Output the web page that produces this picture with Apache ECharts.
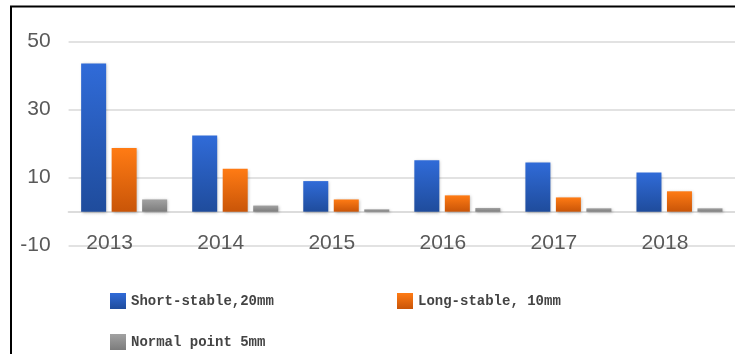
<!DOCTYPE html>
<html>
<head>
<meta charset="utf-8">
<script src="https://cdn.jsdelivr.net/npm/echarts@6/dist/echarts.min.js"></script>
<style>
  html, body { margin: 0; padding: 0; background: #fff; }
  #chart { width: 735px; height: 354px; }
</style>
</head>
<body>
<div id="chart"></div>
<script>
// Yearly values for the three measurement types
const years = ['2013', '2014', '2015', '2016', '2017', '2018'];
const shortStable = [43.6, 22.4, 9.0, 15.1, 14.5, 11.5];
const longStable = [18.7, 12.6, 3.6, 4.8, 4.2, 6.0];
const normalPoint = [3.6, 1.8, 0.7, 1.1, 1.0, 1.0];
const seriesNames = ['Short-stable,20mm', 'Long-stable, 10mm', 'Normal point 5mm'];

const chart = echarts.init(document.getElementById('chart'), null, { renderer: 'canvas' });

function grad(top, bottom) {
  return new echarts.graphic.LinearGradient(0, 0, 0, 1, [
    { offset: 0, color: top },
    { offset: 1, color: bottom }
  ]);
}

const fills = [
  grad('#306bd8', '#1f4c9c'),
  grad('#ff7b14', '#c95508'),
  grad('#a2a2a2', '#7c7c7c')
];

const legendText = {
  fontFamily: 'Liberation Mono',
  fontSize: 14,
  fontWeight: 'bold',
  color: '#444'
};

function legendAt(name, left, top) {
  return {
    data: [name],
    left: left,
    top: top,
    padding: 0,
    icon: 'rect',
    itemWidth: 16,
    itemHeight: 16,
    itemGap: 5,
    textStyle: legendText
  };
}

function barSeries(name, values, fill) {
  return {
    name: name,
    type: 'bar',
    data: values,
    barWidth: 25,
    barGap: '22%',
    itemStyle: {
      color: fill,
      shadowColor: 'rgba(0,0,0,0.25)',
      shadowBlur: 3,
      shadowOffsetX: 1,
      shadowOffsetY: 1
    }
  };
}

chart.setOption({
  backgroundColor: '#fff',
  animation: false,
  grid: { left: 68.6, top: 41.7, width: 673.2, height: 204 },
  legend: [
    legendAt(seriesNames[0], 110, 293),
    legendAt(seriesNames[1], 397, 293),
    legendAt(seriesNames[2], 110, 334)
  ],
  xAxis: {
    type: 'category',
    data: years,
    axisLine: { onZero: true, lineStyle: { color: '#dcdcdc', width: 2 } },
    axisTick: { show: false },
    axisLabel: {
      margin: -13,
      fontFamily: 'Liberation Sans',
      fontSize: 21,
      color: '#595959',
      padding: [0, 29, 0, 0]
    }
  },
  yAxis: {
    type: 'value',
    min: -10,
    max: 50,
    interval: 20,
    axisLine: { show: false },
    axisTick: { show: false },
    splitLine: { lineStyle: { color: '#e2e2e2', width: 2 } },
    axisLabel: {
      margin: 18,
      fontFamily: 'Liberation Sans',
      fontSize: 21,
      color: '#595959'
    }
  },
  graphic: [
    {
      type: 'polyline',
      shape: { points: [[11, 354], [11, 6.5], [735, 6.5]] },
      style: { stroke: '#000', lineWidth: 2, fill: null },
      silent: true
    }
  ],
  series: [
    barSeries(seriesNames[0], shortStable, fills[0]),
    barSeries(seriesNames[1], longStable, fills[1]),
    barSeries(seriesNames[2], normalPoint, fills[2])
  ]
});
</script>
</body>
</html>
